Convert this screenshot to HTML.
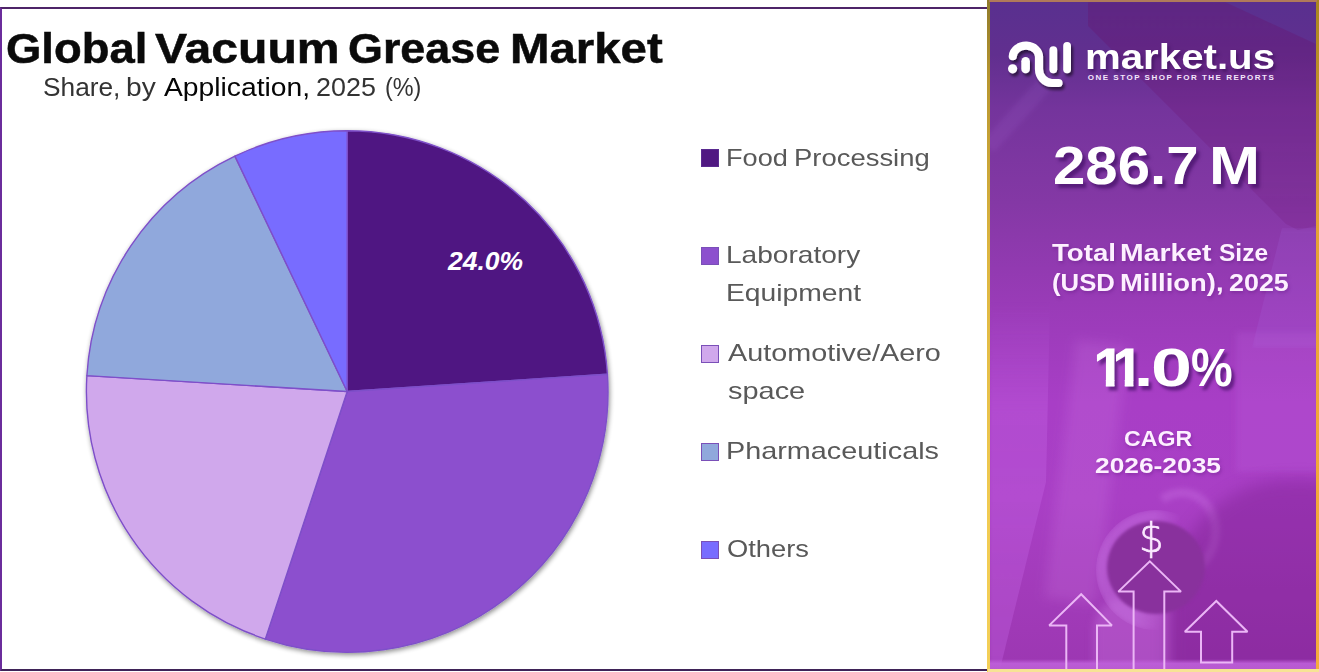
<!DOCTYPE html>
<html lang="en">
<head>
<meta charset="utf-8">
<title>Global Vacuum Grease Market</title>
<style>
  html, body { margin: 0; padding: 0; }
  body {
    width: 1319px; height: 672px; position: relative; overflow: hidden;
    background: #ffffff;
    font-family: "Liberation Sans", sans-serif;
  }
  .t { position: absolute; white-space: nowrap; line-height: 1; transform-origin: 0 0; }
  .g { left: 0; width: 1319px; height: 1em; }
  .g span { position: absolute; top: 0; left: 0; transform-origin: 0 0; white-space: nowrap; }

  /* ---------- left chart panel ---------- */
  #chart {
    position: absolute; left: 0; top: 7px; width: 986px; height: 660px;
    border-top: 2px solid #4e2468;
    border-bottom: 2px solid #3f2358;
    border-left: 2px solid #6b2c9c;
    background: #ffffff;
  }
  .ti { font-weight: bold; color: #0a0a0a; -webkit-text-stroke: 0.5px #0a0a0a; }
  .su { color: #333333; }
  .su2 { color: #050505; }
  .lg { color: #595959; }
  #pie { position: absolute; left: 60px; top: 110px; width: 580px; height: 562px; }
  .sw { position: absolute; left: 701.2px; width: 16.2px; height: 16px; border: 1.2px solid #7a50b8; }

  /* ---------- right info panel ---------- */
  #side { position: absolute; left: 987px; top: 0; width: 332px; height: 672px; }
  #side > i { position: absolute; display: block; }
  #bl { left: 0; top: 0; width: 3px; height: 672px; background: linear-gradient(180deg, #8f7a2a 0, #b8962f 80px, #dcb540 250px, #f1cb52 520px, #f3cf58 672px); }
  #br { left: 329px; top: 0; width: 3px; height: 672px; background: linear-gradient(180deg, #a8861f 0, #c0922a 90px, #e2a234 220px, #f0a838 420px, #f4ac3c 672px); }
  #bt { left: 2px; top: 0; width: 328px; height: 2px; background: #b07a5a; }
  #bb { left: 1px; top: 669px; width: 331px; height: 3px; background: #f7e394; }
  #sidebg {
    position: absolute; left: 3px; top: 2px; width: 326px; height: 667px; overflow: hidden;
    background: linear-gradient(180deg, #59308f 0%, #612f8f 8%, #74349c 16%, #8438a5 30%, #993bb7 45%, #a83ec6 60%, #a93fc5 75%, #a23bba 88%, #9c37b2 100%);
  }
  #sidebg div { position: absolute; }
  .w { color: #ffffff; font-weight: bold; }
  .big { text-shadow: 3px 4px 3px rgba(60,12,95,0.62); }
  .bigf { filter: drop-shadow(3px 4px 1.6px rgba(60,12,95,0.62)); }
  .md { color: #fdf0ff; text-shadow: 1px 2px 3px rgba(90,20,120,0.35); }
  .lo { text-shadow: 2px 3px 3px rgba(50,10,80,0.5); }
  #art { position: absolute; left: 987px; top: 0; width: 332px; height: 672px; }
</style>
</head>
<body>

<div id="chart"></div>

<svg id="pie" viewBox="60 110 580 562">
  <defs>
    <filter id="ds" x="-10%" y="-10%" width="120%" height="120%">
      <feGaussianBlur in="SourceAlpha" stdDeviation="2.5"/>
      <feOffset dx="1" dy="2" result="o"/>
      <feComponentTransfer><feFuncA type="linear" slope="0.45"/></feComponentTransfer>
      <feMerge><feMergeNode/><feMergeNode in="SourceGraphic"/></feMerge>
    </filter>
  </defs>
  <g filter="url(#ds)" stroke="#7e4fc9" stroke-width="1.4" stroke-linejoin="round">
    <!-- centre 347.2,391.5  r 260.8 -->
    <path d="M347.2 391.5 L347.20 130.70 A260.8 260.8 0 0 1 607.43 374.22 Z" fill="#501882"/>
    <path d="M347.2 391.5 L607.43 374.22 A260.8 260.8 0 0 1 265.31 639.11 Z" fill="#8c50ce"/>
    <path d="M347.2 391.5 L265.31 639.11 A260.8 260.8 0 0 1 86.89 375.58 Z" fill="#d0a8ec"/>
    <path d="M347.2 391.5 L86.89 375.58 A260.8 260.8 0 0 1 234.92 156.11 Z" fill="#90a8dc"/>
    <path d="M347.2 391.5 L234.92 156.11 A260.8 260.8 0 0 1 347.20 130.70 Z" fill="#786cff"/>
  </g>
  <text x="448" y="270" font-family="'Liberation Sans', sans-serif" font-size="25" font-weight="bold" font-style="italic" fill="#ffffff" textLength="75" lengthAdjust="spacingAndGlyphs">24.0%</text>
</svg>

<!-- legend swatches -->
<div class="sw" style="top:149px;background:#501882;border-color:#5a2a90"></div>
<div class="sw" style="top:247px;background:#8c50ce"></div>
<div class="sw" style="top:344.5px;background:#d0a8ec"></div>
<div class="sw" style="top:443px;background:#90a8dc"></div>
<div class="sw" style="top:540.5px;background:#786cff"></div>

<!-- right panel -->
<div id="side"><i id="bl"></i><i id="br"></i><i id="bt"></i><i id="bb"></i><div id="sidebg">
  <!-- large dark tilted card behind the logo -->
  <div style="left:0;top:0;width:326px;height:240px;background:linear-gradient(180deg, rgba(105,16,104,0.30) 0%, rgba(110,20,110,0.22) 60%, rgba(110,20,110,0.16) 100%);clip-path:polygon(98px 0,235px 0,326px 42px,326px 224px,308px 228px,296px 222px,98px 24px);filter:blur(1.2px);"></div>
  <!-- lighter lavender patch below the card, right edge -->
  <div style="left:262px;top:226px;width:70px;height:120px;background:rgba(170,115,232,0.16);clip-path:polygon(30px 0,70px 0,70px 120px,0 120px);filter:blur(2px);"></div>
  <!-- faint streak upper-left -->
  <div style="left:-20px;top:96px;width:110px;height:16px;background:rgba(190,130,235,0.10);transform:rotate(-48deg);filter:blur(2px);"></div>
  <!-- lighter left wedge in lower half -->
  <div style="left:0;top:300px;width:70px;height:367px;background:linear-gradient(180deg, rgba(200,105,232,0) 0%, rgba(200,105,232,0.30) 30%, rgba(196,100,228,0.34) 100%);clip-path:polygon(0 0,60px 0,56px 180px,10px 367px,0 367px);filter:blur(1.5px);"></div>
  <!-- soft light arm / band through centre-left -->
  <div style="left:70px;top:340px;width:52px;height:260px;background:rgba(225,150,240,0.16);transform:rotate(7deg);filter:blur(6px);"></div>
  <!-- lighter rectangle right middle -->
  <div style="left:246px;top:330px;width:90px;height:140px;background:rgba(205,120,235,0.16);filter:blur(3px);"></div>
  <!-- cup body below rim -->
  <div style="left:104px;top:596px;width:76px;height:80px;border-radius:30px 10px 0 0;background:rgba(212,130,232,0.30);filter:blur(4px);"></div>
  <!-- cup rim (light ring) -->
  <div style="left:106px;top:508px;width:120px;height:120px;border-radius:50%;background:rgba(205,125,232,0.40);filter:blur(2.5px);-webkit-mask-image:linear-gradient(100deg,#000 0%,#000 42%,rgba(0,0,0,0) 62%);mask-image:linear-gradient(100deg,#000 0%,#000 42%,rgba(0,0,0,0) 62%);"></div>
  <!-- handle arc upper right of cup -->
  <div style="left:150px;top:486px;width:80px;height:90px;border-radius:50%;border:9px solid rgba(210,130,235,0.28);border-left-color:transparent;border-bottom-color:transparent;transform:rotate(12deg);filter:blur(2.5px);box-sizing:border-box;"></div>
  <!-- dark hand region bottom right -->
  <div style="left:178px;top:478px;width:240px;height:260px;border-radius:50% 40% 0 0;background:rgba(112,22,128,0.34);filter:blur(8px);"></div>
  <!-- coffee (dark disc) -->
  <div style="left:117px;top:519px;width:98px;height:93px;border-radius:50%;background:#89319d;filter:blur(1.5px);"></div>
  <!-- light strip along the bottom -->
  <div style="left:0;top:657px;width:326px;height:10px;background:linear-gradient(180deg, rgba(200,110,230,0) 0, rgba(190,95,218,0.9) 45%, rgba(186,92,210,0.95) 100%);"></div>
</div></div>

<svg id="art" viewBox="987 0 332 672">
  <defs>
    <filter id="ls" x="-20%" y="-20%" width="150%" height="150%">
      <feGaussianBlur in="SourceAlpha" stdDeviation="1.6"/>
      <feOffset dx="2" dy="3"/>
      <feComponentTransfer><feFuncA type="linear" slope="0.55"/></feComponentTransfer>
      <feMerge><feMergeNode/><feMergeNode in="SourceGraphic"/></feMerge>
    </filter>
  </defs>
  <!-- logo mark -->
  <g filter="url(#ls)" fill="#ffffff" stroke="none">
    <path d="M1012.8 56.2 A13.1 11.2 0 0 1 1039 57.5 L1039 69 A13 14 0 0 0 1052 83 L1058.5 83" fill="none" stroke="#ffffff" stroke-width="8.2" stroke-linecap="round" stroke-linejoin="round"/>
    <circle cx="1012.6" cy="68.8" r="4.6"/>
    <rect x="1021.3" y="57" width="8.6" height="16.2" rx="4.3"/>
    <rect x="1049.4" y="46.2" width="7.8" height="27" rx="3.9"/>
    <rect x="1063.2" y="42" width="7.8" height="31.2" rx="3.9"/>
  </g>
  <!-- arrows -->
  <g fill="none" stroke="#ebb6f6" stroke-width="2" stroke-linejoin="miter" stroke-miterlimit="2">
    <path d="M1133.6 669 L1133.6 591.6 L1118.3 591.6 L1149.8 561.4 L1181 591.6 L1164.3 591.6 L1164.3 669"/>
    <path d="M1066.3 669 L1066.3 625.4 L1049.2 625.4 L1081.2 594.2 L1111.9 625.4 L1097 625.4 L1097 669"/>
    <path d="M1201 662.5 L1201 631.8 L1184.8 631.8 L1216.3 601 L1247.5 631.8 L1232.2 631.8 L1232.2 662.5 Z"/>
  </g>
</svg>

<div class="t w" style="left:1087.8px;top:73.8px;font-size:8px;letter-spacing:1.5px;color:#f4e6fb;">ONE STOP SHOP FOR THE REPORTS</div>
<div class="t" style="left:1138.7px;top:517.6px;font-size:41px;color:#fbeaff;font-family:'DejaVu Sans Light','DejaVu Sans',sans-serif;font-weight:200;-webkit-text-stroke:0.7px #fbeaff;transform:scaleX(0.95);">$</div>

<div class="t g ti" style="top:27.8px;font-size:42px"><span style="left:5.8px;transform:scaleX(1.081)">Global</span> <span style="left:154.7px;transform:scaleX(1.146)">Vacuum</span> <span style="left:347.9px;transform:scaleX(1.068)">Grease</span> <span style="left:509.5px;transform:scaleX(1.128)">Market</span></div>
<div class="t g su" style="top:74.7px;font-size:25px"><span style="left:43.2px;transform:scaleX(1.051)">Share,</span> <span style="left:126.1px;transform:scaleX(1.127)">by</span> <span class="su2" style="left:164.3px;transform:scaleX(1.130)">Application,</span> <span style="left:316.2px;transform:scaleX(1.076)">2025</span> <span style="left:384.9px;transform:scaleX(0.936)">(%)</span></div>
<div class="t g lg" style="top:146.7px;font-size:23.6px"><span style="left:726.3px;transform:scaleX(1.150)">Food</span> <span style="left:794.3px;transform:scaleX(1.163)">Processing</span></div>
<div class="t g lg" style="top:243.8px;font-size:23.6px"><span style="left:726.2px;transform:scaleX(1.190)">Laboratory</span></div>
<div class="t g lg" style="top:281.7px;font-size:23.6px"><span style="left:726.2px;transform:scaleX(1.198)">Equipment</span></div>
<div class="t g lg" style="top:341.7px;font-size:23.6px"><span style="left:728.4px;transform:scaleX(1.220)">Automotive/Aero</span></div>
<div class="t g lg" style="top:379.7px;font-size:23.6px"><span style="left:727.9px;transform:scaleX(1.226)">space</span></div>
<div class="t g lg" style="top:439.7px;font-size:23.6px"><span style="left:726.1px;transform:scaleX(1.221)">Pharmaceuticals</span></div>
<div class="t g lg" style="top:537.5px;font-size:23.6px"><span style="left:726.7px;transform:scaleX(1.158)">Others</span></div>
<div class="t g w lo" style="top:39.3px;font-size:35px"><span style="left:1085.3px;transform:scaleX(1.149)">market.us</span></div>
<div class="t g w big" style="top:138.4px;font-size:54.2px"><span style="left:1053.4px;transform:scaleX(1.073)">286.7</span> <span style="left:1208.5px;font-size:53px;top:1.0px;transform:scaleX(1.155)">M</span></div>
<div class="t g w md" style="top:240.8px;font-size:24.3px"><span style="left:1052.4px;transform:scaleX(1.139)">Total</span> <span style="left:1119.6px;transform:scaleX(1.168)">Market</span> <span style="left:1218.8px;transform:scaleX(1.010)">Size</span></div>
<div class="t g w md" style="top:271.1px;font-size:24.3px"><span style="left:1051.8px;transform:scaleX(1.059)">(USD</span> <span style="left:1119.7px;transform:scaleX(1.129)">Million),</span> <span style="left:1228.7px;transform:scaleX(1.106)">2025</span></div>
<div class="t g w bigf" style="top:341.4px;font-size:54.5px"><span style="left:1093.85px;-webkit-text-stroke:1px #fff;clip-path:polygon(-5px -5px,40px -5px,40px 38.6px,20.7px 38.6px,20.7px 60px,12px 60px,12px 38.6px,-5px 38.6px);transform:scaleX(1)">1</span><span style="left:1112.75px;-webkit-text-stroke:1px #fff;clip-path:polygon(-5px -5px,40px -5px,40px 38.6px,20.7px 38.6px,20.7px 60px,12px 60px,12px 38.6px,-5px 38.6px);transform:scaleX(1)">1</span><span style="left:1134.2px;transform:scaleX(1.268)">.</span><span style="left:1151.4px;transform:scaleX(1.352)">0</span><span style="left:1191.3px;transform:scaleX(0.860)">%</span></div>
<div class="t g w md" style="top:428.3px;font-size:21.8px"><span style="left:1124.0px;transform:scaleX(1.062)">CAGR</span></div>
<div class="t g w md" style="top:455.2px;font-size:22.3px"><span style="left:1094.9px;transform:scaleX(1.181)">2026-2035</span></div>


</body>
</html>
